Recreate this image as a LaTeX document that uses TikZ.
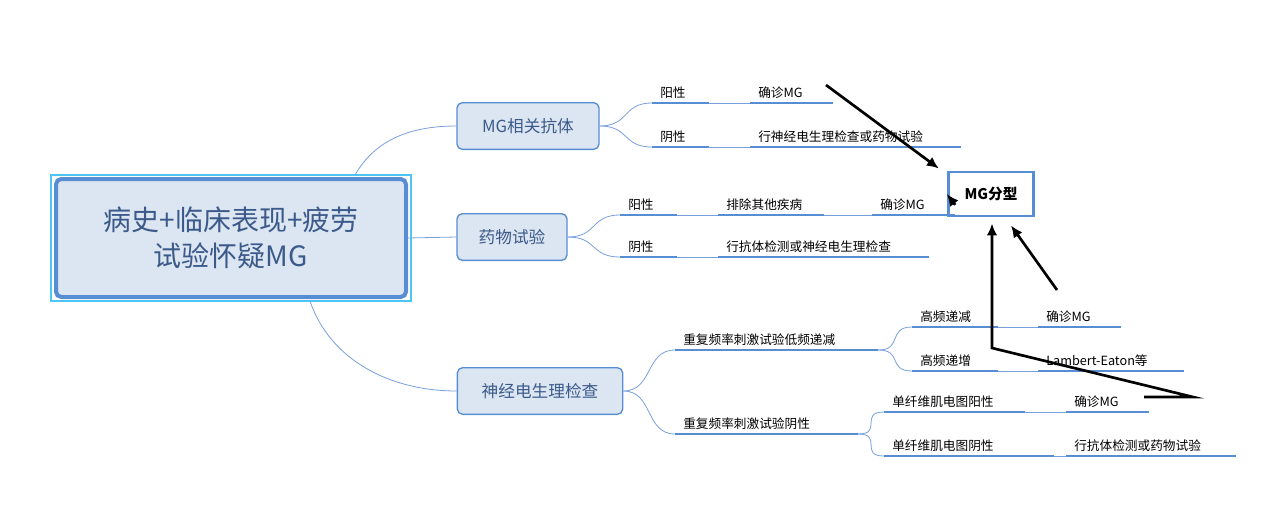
\documentclass[tikz,border=0pt]{standalone}
\usepackage{fontspec}
\setmainfont{Noto Sans CJK SC}
\usetikzlibrary{positioning,arrows.meta}
\definecolor{boxfill}{RGB}{220,230,242}
\definecolor{boxline}{RGB}{86,141,211}
\definecolor{twig}{RGB}{120,160,220}
\definecolor{roottext}{RGB}{59,90,138}
\tikzset{
  root/.style={draw=boxline,line width=3pt,rounded corners=4pt,fill=boxfill,
    minimum width=262.5pt,minimum height=88.5pt,align=center,
    font=\fontsize{21}{27}\selectfont,text=roottext},
  branch/.style={draw=boxline,line width=1pt,rounded corners=4pt,fill=boxfill,
    minimum height=35pt,font=\fontsize{12.5}{15}\selectfont,text=roottext},
  leaf/.style={anchor=south west,inner xsep=6pt,inner ysep=3pt,text width=#1,
    font=\fontsize{9.5}{11}\selectfont},
  uline/.style={draw=boxline,line width=2pt},
  twigline/.style={draw=twig,line width=0.6pt},
  bigarrow/.style={draw=black,line width=2pt,-{Latex[length=9pt,width=8pt]}}
}
\begin{document}
\begin{tikzpicture}[x=0.75pt,y=-0.75pt]
\useasboundingbox (0,0) rectangle (1282,529);

% root and main branches
\node[root] (root) at (231,238) {病史+临床表现+疲劳\\试验怀疑MG};
\draw[cyan!70,line width=0.8pt] (51,175) rectangle (411,301);
\node[branch,minimum width=106.5pt] (anti) at (528,126) {MG相关抗体};
\node[branch,minimum width=82.5pt] (drug) at (512,237) {药物试验};
\node[branch,minimum width=124pt] (emg) at (540,391) {神经电生理检查};
\node[draw=boxline,line width=2.2pt,fill=white,minimum width=64pt,minimum height=33pt,
  font=\fontsize{11}{13}\selectfont\bfseries] (type) at (991,194) {MG分型};

\draw[twigline] (355,175) .. controls (375,140) and (410,126) .. (anti.west);
\draw[twigline] (root.east) -- (drug.west);
\draw[twigline] (310,301) .. controls (330,360) and (390,391) .. (emg.west);

% MG相关抗体
\node[leaf=30pt] (a1) at (652,103) {阳性};
\node[leaf=50pt] (a2) at (750,103) {确诊MG};
\node[leaf=30pt] (a3) at (652,147) {阴性};
\node[leaf=146pt] (a4) at (750,147) {行神经电生理检查或药物试验};
% 药物试验
\node[leaf=30pt] (d1) at (620,215) {阳性};
\node[leaf=67pt] (d2) at (718,215) {排除其他疾病};
\node[leaf=50pt] (d3) at (872,215) {确诊MG};
\node[leaf=30pt] (d4) at (620,257) {阴性};
\node[leaf=146pt] (d5) at (718,257) {行抗体检测或神经电生理检查};
% 神经电生理检查
\node[leaf=140pt] (e1) at (675,350) {重复频率刺激试验低频递减};
\node[leaf=125pt] (e2) at (675,434) {重复频率刺激试验阴性};
\node[leaf=52pt] (e3) at (912,327) {高频递减};
\node[leaf=50pt] (e4) at (1038,327) {确诊MG};
\node[leaf=52pt] (e5) at (912,371) {高频递增};
\node[leaf=97pt] (e6) at (1038,371) {Lambert-Eaton等};
\node[leaf=93pt] (e7) at (884,412) {单纤维肌电图阳性};
\node[leaf=50pt] (e8) at (1066,412) {确诊MG};
\node[leaf=115pt] (e9) at (884,456) {单纤维肌电图阴性};
\node[leaf=115pt] (e10) at (1066,456) {行抗体检测或药物试验};

\foreach \n in {a1,a2,a3,a4,d1,d2,d3,d4,d5,e1,e2,e3,e4,e5,e6,e7,e8,e9,e10}
  \draw[uline] (\n.south west) -- (\n.south east);

% twigs
\foreach \s/\t in {a1/a2,a3/a4,d1/d2,d2/d3,d4/d5,e3/e4,e5/e6,e7/e8,e9/e10}
  \draw[twigline] (\s.south east) -- (\t.south west);
\foreach \s/\t in {anti/a1,anti/a3,drug/d1,drug/d4,emg/e1,emg/e2}
  \draw[twigline] (\s.east) .. controls +(30,0) and +(-30,0) .. (\t.south west);
\foreach \s/\t in {e1/e3,e1/e5,e2/e7,e2/e9}
  \draw[twigline] (\s.south east) .. controls +(25,0) and +(-25,0) .. (\t.south west);

% arrows to MG分型
\coordinate (p1) at (826,85);
\coordinate (p2) at (1057,290);
\coordinate (p3) at (1144,397);
\coordinate (p4) at (1193,397);
\coordinate (p5) at (992,348);
\draw[bigarrow] (p1) -- ([shift={(-8,-2)}]type.north west);
\draw[bigarrow] (d3.east) -- (type.west);
\draw[bigarrow] (p2) -- ([shift={(20,8)}]type.south);
\draw[bigarrow] (p3) -- (p4) -- (p5) -- ([shift={(1,6)}]type.south);
\end{tikzpicture}
\end{document}
